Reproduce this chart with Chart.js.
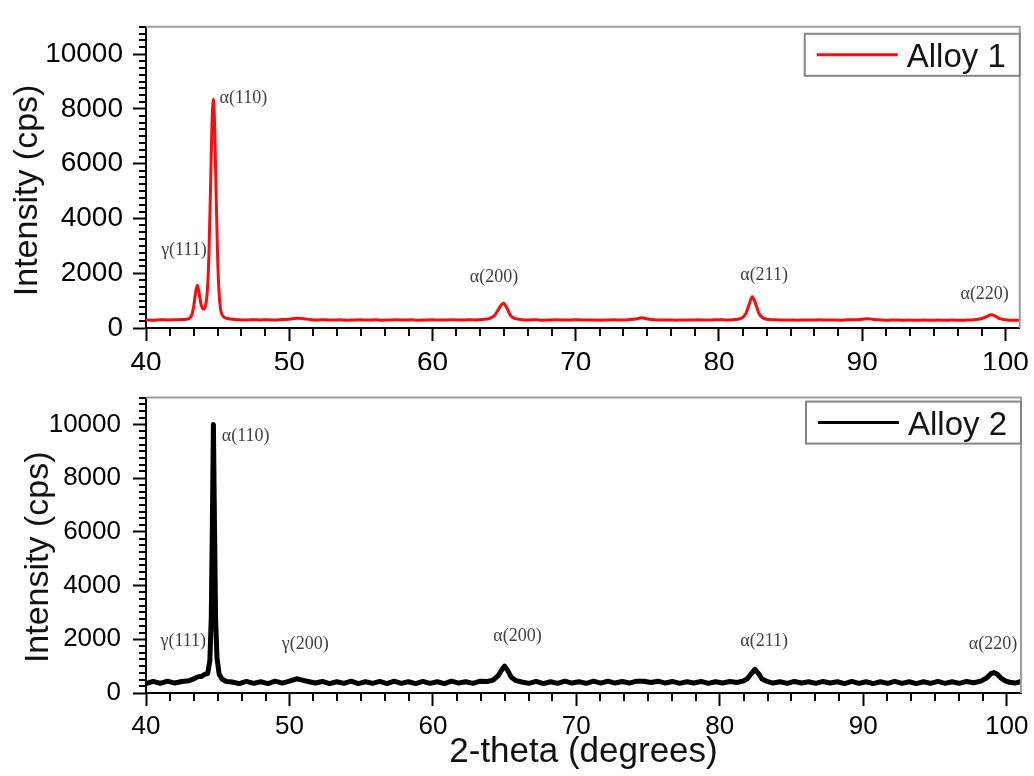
<!DOCTYPE html>
<html>
<head>
<meta charset="utf-8">
<title>XRD – Alloy 1 / Alloy 2</title>
<script src="https://cdn.jsdelivr.net/npm/chart.js@4.4.1/dist/chart.umd.min.js"></script>
<style>
  html, body { margin: 0; padding: 0; background: #fff; }
  #wrap { position: relative; width: 1034px; height: 776px; }
  canvas { position: absolute; left: 0; }
  #top { top: 0; }
  #bottom { top: 370px; }
</style>
</head>
<body>
<div id="wrap">
  <canvas id="top" width="1034" height="370"></canvas>
  <canvas id="bottom" width="1034" height="406"></canvas>
</div>
<script>
// ============ DATA ============
const xTicks = [40, 50, 60, 70, 80, 90, 100];
const yTicks = [0, 2000, 4000, 6000, 8000, 10000];

// Alloy 1 (rojo)
const theta1 = [40.0, 40.5, 41.0, 41.5, 42.0, 42.5, 42.8, 43.1, 43.3, 43.45, 43.58, 43.7, 43.85, 44.0, 44.15,
  44.3, 44.4, 44.5, 44.6, 44.7, 44.8, 44.9, 45.0, 45.1, 45.2, 45.35, 45.6, 46.0, 46.5, 47.0, 47.5, 48.0, 48.5,
  49.0, 49.5, 50.0, 50.5, 51.0, 51.5, 52.0, 52.5, 53.0, 53.5, 54.0, 54.5, 55.0, 55.5, 56.0, 56.5, 57.0, 57.5,
  58.0, 58.5, 59.0, 59.5, 60.0, 60.5, 61.0, 61.5, 62.0, 62.5, 63.0, 63.5, 64.0, 64.35, 64.65, 64.95, 65.2,
  65.45, 65.8, 66.2, 66.7, 67.2, 67.7, 68.2, 68.7, 69.2, 69.7, 70.2, 70.7, 71.2, 71.7, 72.2, 72.7, 73.2, 73.7,
  74.2, 74.6, 75.0, 75.5, 76.0, 76.5, 77.0, 77.5, 78.0, 78.5, 79.0, 79.5, 80.0, 80.5, 81.0, 81.5, 81.85, 82.1,
  82.32, 82.55, 82.8, 83.1, 83.5, 84.0, 84.5, 85.0, 85.5, 86.0, 86.5, 87.0, 87.5, 88.0, 88.5, 89.0, 89.5, 90.0,
  90.4, 90.8, 91.3, 91.8, 92.3, 92.8, 93.3, 93.8, 94.3, 94.8, 95.3, 95.8, 96.3, 96.8, 97.3, 97.8, 98.3, 98.7,
  99.0, 99.3, 99.6, 100.0, 100.5, 101.0];
const alloy1 = [300, 285, 305, 295, 300, 310, 320, 380, 700, 1250, 1560, 1300, 850, 690, 800,
  1500, 2800, 5000, 7300, 8350, 7200, 4800, 2600, 1300, 700, 450, 360, 320, 300, 290, 305, 295, 300,
  290, 310, 320, 360, 340, 305, 295, 300, 290, 300, 285, 295, 300, 290, 300, 285, 295, 300,
  290, 300, 285, 295, 300, 290, 295, 300, 290, 300, 295, 310, 350, 470, 720, 900, 720,
  450, 340, 305, 295, 300, 285, 295, 300, 290, 295, 300, 290, 295, 285, 295, 300, 290, 305,
  330, 370, 330, 300, 290, 295, 285, 295, 290, 300, 290, 295, 300, 295, 305, 340, 500, 850,
  1140, 900, 520, 360, 310, 300, 290, 295, 285, 295, 290, 300, 290, 295, 285, 300, 300, 320,
  340, 310, 295, 285, 295, 285, 290, 280, 290, 280, 290, 280, 290, 280, 290, 300, 340, 420,
  480, 430, 340, 300, 280, 285];

// Alloy 2 (negro)
const theta2 = [40.0, 40.5, 41.0, 41.5, 42.0, 42.5, 43.0, 43.3, 43.6, 43.9, 44.1, 44.3, 44.45, 44.55, 44.63,
  44.7, 44.77, 44.85, 44.95, 45.1, 45.3, 45.6, 46.0, 46.5, 47.0, 47.5, 48.0, 48.5, 49.0, 49.5, 50.0, 50.5,
  50.9, 51.3, 51.8, 52.3, 52.8, 53.3, 53.8, 54.3, 54.8, 55.3, 55.8, 56.3, 56.8, 57.3, 57.8, 58.3, 58.8, 59.3,
  59.8, 60.3, 60.8, 61.3, 61.8, 62.3, 62.8, 63.3, 63.8, 64.2, 64.55, 64.85, 65.0, 65.2, 65.45, 65.8, 66.2,
  66.7, 67.2, 67.7, 68.2, 68.7, 69.2, 69.7, 70.2, 70.7, 71.2, 71.7, 72.2, 72.7, 73.2, 73.7, 74.2, 74.7, 75.2,
  75.7, 76.2, 76.7, 77.2, 77.7, 78.2, 78.7, 79.2, 79.7, 80.2, 80.7, 81.2, 81.6, 81.9, 82.2, 82.45, 82.7, 82.95,
  83.3, 83.7, 84.2, 84.7, 85.2, 85.7, 86.2, 86.7, 87.2, 87.7, 88.2, 88.7, 89.2, 89.7, 90.2, 90.7, 91.2, 91.7,
  92.2, 92.7, 93.2, 93.7, 94.2, 94.7, 95.2, 95.7, 96.2, 96.7, 97.2, 97.7, 98.2, 98.6, 98.9, 99.1, 99.35, 99.6,
  99.9, 100.2, 100.6, 101.0];
const alloy2 = [350, 430, 360, 440, 370, 430, 460, 520, 600, 620, 700, 720, 1200, 2800, 6500,
  10000, 6500, 2800, 1300, 700, 520, 430, 410, 350, 430, 360, 420, 350, 440, 370, 440, 530,
  480, 430, 370, 430, 350, 420, 360, 440, 350, 420, 360, 430, 350, 440, 360, 420, 350, 430,
  360, 420, 350, 440, 370, 420, 360, 440, 430, 480, 650, 900, 1000, 850, 600, 460, 410,
  360, 430, 350, 420, 360, 440, 370, 420, 360, 440, 370, 440, 370, 430, 370, 440, 440, 390,
  440, 370, 430, 360, 420, 370, 430, 360, 420, 370, 430, 390, 440, 520, 720, 880, 720, 520,
  430, 370, 420, 360, 430, 370, 420, 360, 430, 370, 420, 350, 430, 360, 420, 350, 420, 360,
  430, 360, 420, 350, 420, 360, 430, 360, 420, 360, 430, 380, 440, 560, 720, 760, 700, 560,
  450, 400, 370, 430];

// Etiquetas de picos (posición del texto en coordenadas de datos)
const peakNames1 = ['γ(111)', 'α(110)', 'α(200)', 'α(211)', 'α(220)'];
const peakTheta1 = [42.65, 46.8, 64.3, 83.15, 98.55];
const peakCps1 = [2840, 8380, 1840, 1940, 1250];

const peakNames2 = ['γ(111)', 'α(110)', 'γ(200)', 'α(200)', 'α(211)', 'α(220)'];
const peakTheta2 = [42.6, 46.95, 51.1, 65.9, 83.1, 99.05];
const peakCps2 = [1930, 9550, 1830, 2100, 1930, 1830];

// ============ PLUGIN: marco, ticks menores, etiquetas, leyenda, título Y ============
const decor = {
  id: 'decor',
  afterDraw(chart, args, o) {
    const { ctx, chartArea: a, scales: { x, y } } = chart;
    ctx.save();

    // marco superior y derecho (gris)
    ctx.strokeStyle = '#9c9c9c'; ctx.lineWidth = 2;
    ctx.beginPath();
    ctx.moveTo(a.left, a.top); ctx.lineTo(a.right, a.top); ctx.lineTo(a.right, a.bottom);
    ctx.stroke();

    // ticks menores
    ctx.strokeStyle = '#000'; ctx.lineWidth = 2;
    ctx.beginPath();
    for (let i = 0; i < xTicks.length - 1; i++) {
      const step = (xTicks[i + 1] - xTicks[i]) / 6;
      for (let k = 1; k < 6; k++) {
        const px = Math.round(x.getPixelForValue(xTicks[i] + k * step));
        ctx.moveTo(px, a.bottom); ctx.lineTo(px, a.bottom + 8);
      }
    }
    for (let v = 250; v <= y.max; v += 250) {
      if (v % 2000 === 0) continue;
      const py = Math.round(y.getPixelForValue(v));
      ctx.moveTo(a.left, py); ctx.lineTo(a.left - 7, py);
    }
    ctx.stroke();

    // etiquetas de picos
    ctx.font = '18px "Liberation Serif", "Times New Roman", serif';
    ctx.fillStyle = '#3f3f3f';
    ctx.textAlign = 'center'; ctx.textBaseline = 'middle';
    o.names.forEach((t, i) => ctx.fillText(t, x.getPixelForValue(o.theta[i]), y.getPixelForValue(o.cps[i])));

    // leyenda
    const bw = 215, bh = 42;
    const bx = a.right - bw, by = a.top + o.legendTop;
    ctx.fillStyle = '#fff'; ctx.fillRect(bx, by, bw, bh);
    ctx.strokeStyle = '#858585'; ctx.lineWidth = 2; ctx.strokeRect(bx, by, bw, bh);
    ctx.strokeStyle = o.color; ctx.lineWidth = 3;
    ctx.beginPath(); ctx.moveTo(bx + 12, by + bh / 2); ctx.lineTo(bx + 93, by + bh / 2); ctx.stroke();
    ctx.fillStyle = '#151515'; ctx.font = '33px "Liberation Sans", Arial, sans-serif';
    ctx.textAlign = 'left'; ctx.textBaseline = 'alphabetic';
    ctx.fillText(o.label, bx + 102, by + bh / 2 + 12);

    // título eje Y
    ctx.translate(o.titleX, (a.top + a.bottom) / 2 + o.titleShift);
    ctx.rotate(-Math.PI / 2);
    ctx.textAlign = 'center'; ctx.textBaseline = 'middle';
    ctx.font = '34px "Liberation Sans", Arial, sans-serif';
    ctx.fillStyle = '#111';
    ctx.fillText('Intensity (cps)', 0, 0);

    ctx.restore();
  }
};

Chart.defaults.font.family = '"Liberation Sans", Arial, sans-serif';
Chart.defaults.color = '#000';

function panel(canvas, { theta, values, color, width, smooth, label, names, thetaP, cps, tickSize, yPad, xPad,
                         padTop, xHeight, xTitle, legendTop, titleX, titleShift }) {
  return new Chart(canvas, {
    type: 'line',
    data: {
      datasets: [{
        label,
        data: theta.map((t, i) => ({ x: t, y: values[i] })),
        borderColor: color, borderWidth: width, pointRadius: 0, fill: false,
        cubicInterpolationMode: smooth ? 'monotone' : 'default', tension: 0,
        borderJoinStyle: 'round',
      }],
    },
    options: {
      responsive: false, animation: false,
      layout: { padding: { left: 0, top: padTop, right: 13, bottom: 0 } },
      plugins: {
        legend: { display: false }, tooltip: { enabled: false },
        decor: { names, theta: thetaP, cps, color, label, legendTop, titleX, titleShift },
      },
      scales: {
        x: {
          type: 'linear', min: 40, max: 101,
          afterBuildTicks: s => { s.ticks = xTicks.map(v => ({ value: v })); },
          afterFit: s => { s.height = xHeight; },
          ticks: { font: { size: tickSize }, color: '#000', padding: xPad, maxRotation: 0, autoSkip: false, includeBounds: false },
          grid: { drawOnChartArea: false, drawTicks: true, tickLength: 13, tickWidth: 2, tickColor: '#000' },
          border: { display: true, color: '#000', width: 2 },
          title: xTitle
            ? { display: true, text: '2-theta (degrees)', color: '#111', font: { size: 35 }, padding: { top: 0, bottom: 3 } }
            : { display: false },
        },
        y: {
          min: 0, max: 11000,
          afterBuildTicks: s => { s.ticks = yTicks.map(v => ({ value: v })); },
          afterFit: s => { s.width = 146; },
          ticks: { font: { size: tickSize }, color: '#000', padding: yPad, callback: v => String(v), includeBounds: false },
          grid: { drawOnChartArea: false, drawTicks: true, tickLength: 13, tickWidth: 2, tickColor: '#000' },
          border: { display: true, color: '#000', width: 2 },
        },
      },
    },
    plugins: [decor],
  });
}

panel(document.getElementById('top'), {
  theta: theta1, values: alloy1, color: '#ff0a0a', width: 3, smooth: true, label: 'Alloy 1',
  names: peakNames1, thetaP: peakTheta1, cps: peakCps1,
  tickSize: 28, yPad: 10, xPad: 5, padTop: 10, xHeight: 42, xTitle: false,
  legendTop: 7, titleX: 28, titleShift: 13,
});

panel(document.getElementById('bottom'), {
  theta: theta2, values: alloy2, color: '#000', width: 5, smooth: false, label: 'Alloy 2',
  names: peakNames2, thetaP: peakTheta2, cps: peakCps2,
  tickSize: 26, yPad: 12, xPad: 5, padTop: 4, xHeight: 83, xTitle: true,
  legendTop: 4, titleX: 39, titleShift: 12,
});
</script>
</body>
</html>
